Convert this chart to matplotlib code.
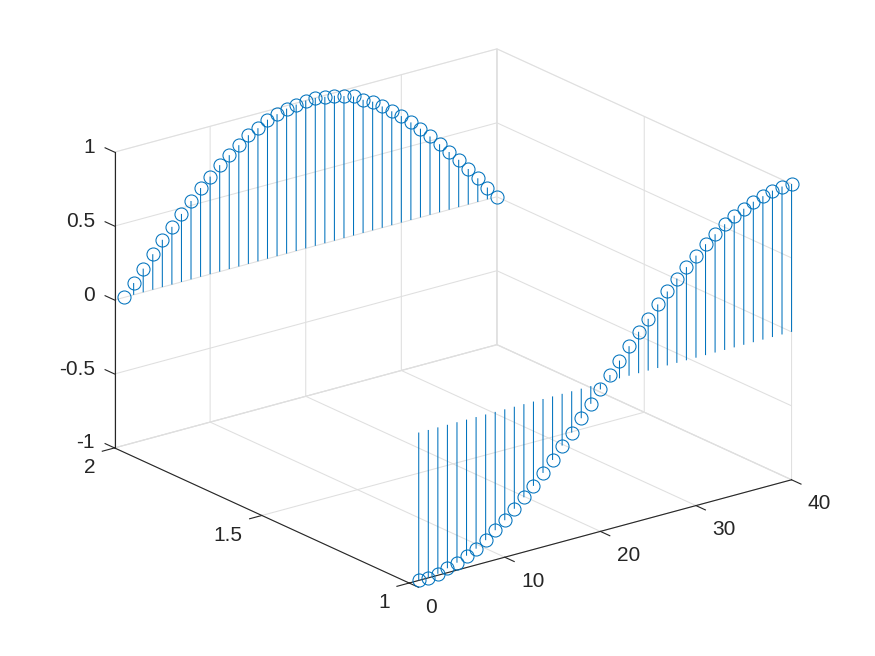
"""MATLAB-style stem3 figure: two stem series on the y=1 and y=2 planes."""
import matplotlib
matplotlib.use("Agg")
import matplotlib.pyplot as plt
from matplotlib.transforms import Affine2D

x_vals = list(range(1, 41))
back_y = [2] * 40
front_y = [1] * 40
back_z = [0.00, 0.08, 0.16, 0.24, 0.32, 0.39, 0.46, 0.53, 0.60, 0.66,
          0.72, 0.77, 0.82, 0.87, 0.90, 0.94, 0.96, 0.98, 0.99, 1.00,
          1.00, 0.99, 0.98, 0.96, 0.94, 0.90, 0.87, 0.82, 0.77, 0.72,
          0.66, 0.60, 0.53, 0.46, 0.39, 0.32, 0.24, 0.16, 0.08, 0.00]
front_z = [-1.00, -1.00, -0.99, -0.97, -0.95, -0.92, -0.89, -0.85, -0.80, -0.75,
           -0.69, -0.63, -0.57, -0.50, -0.43, -0.35, -0.28, -0.20, -0.12, -0.04,
           0.04, 0.12, 0.20, 0.28, 0.35, 0.43, 0.50, 0.57, 0.63, 0.69,
           0.75, 0.80, 0.85, 0.89, 0.92, 0.95, 0.97, 0.99, 1.00, 1.00]
x_ticks = [0, 10, 20, 30, 40]
y_ticks = [1, 1.5, 2]
z_ticks = [-1, -0.5, 0, 0.5, 1]

BLUE = "#0072BD"
DARK = "#262626"
GRID = "#DFDFDF"
W, H = 875, 656

plt.rcParams["font.family"] = ["Liberation Sans", "DejaVu Sans"]
plt.rcParams["axes.unicode_minus"] = False
plt.rcParams["grid.color"] = GRID
plt.rcParams["grid.linewidth"] = 0.75


def nudge_labels(axis, dx, dy):
    # Axis3D resets the tick transforms on every draw, so wrap the getter
    base_get = axis.get_major_ticks

    def get_major_ticks(numticks=None):
        ticks = base_get(numticks)
        for tick in ticks:
            tick.label1.set_transform(axis.axes.transData + Affine2D().translate(dx, dy))
        return ticks

    axis.get_major_ticks = get_major_ticks


fig = plt.figure(figsize=(W / 100, H / 100), dpi=100)
S = 640
ax = fig.add_axes([124.4 / W, 11.4 / H, S / W, S / H], projection="3d", proj_type="ortho")
ax.view_init(elev=20.6, azim=-127.5)
ax.set_box_aspect((482, 484, 316), zoom=1.1416)
ax.set_xlim(0, 40)
ax.set_ylim(1, 2)
ax.set_zlim(-1, 1)
ax.set_xticks(x_ticks)
ax.set_yticks(y_ticks)
ax.set_zticks(z_ticks)
ax.set_xticklabels(["0", "10", "20", "30", "40"], fontsize=15, color=DARK, ha="left", va="center")
ax.set_yticklabels(["1", "1.5", "2"], fontsize=15, color=DARK, ha="right", va="center")
ax.set_zticklabels(["-1", "-0.5", "0", "0.5", "1"], fontsize=15, color=DARK, ha="right", va="center")

for axis in (ax.xaxis, ax.yaxis, ax.zaxis):
    axis.pane.set_facecolor((1, 1, 1, 0))
    axis.pane.set_edgecolor(GRID)
    axis.pane.set_linewidth(0.75)
    axis.line.set_color(DARK)
    axis.line.set_linewidth(0.8)
    # x and y ticks point away from the back panes, so "inward" is the outer side here
    axis._axinfo["tick"]["inward_factor"] = 0.4
    axis._axinfo["tick"]["outward_factor"] = 0.0
    axis._axinfo["tick"]["linewidth"] = {True: 0.8, False: 0.5}
    axis._axinfo["tick"]["color"] = DARK
# z ticks run along y in the reference, beyond the y=2 wall
ax.zaxis._get_tickdir = lambda position: 1
ax.zaxis._axinfo["tick"]["inward_factor"] = 0.0
ax.zaxis._axinfo["tick"]["outward_factor"] = 0.4
ax.tick_params(axis="x", colors=DARK, pad=4)
ax.tick_params(axis="y", colors=DARK, pad=4)
ax.tick_params(axis="z", colors=DARK, pad=-1)
nudge_labels(ax.xaxis, 1.5, -2.5)
nudge_labels(ax.zaxis, 0, 4)

for ys, zs in ((back_y, back_z), (front_y, front_z)):
    markers, stems, base = ax.stem(x_vals, ys, zs, linefmt="-", markerfmt="o", basefmt=" ", bottom=0)
    stems.set_color(BLUE)
    stems.set_linewidth(0.75)
    stems.set_clip_on(False)
    stems.set_snap(False)
    markers.set_color(BLUE)
    markers.set_markerfacecolor("none")
    markers.set_markersize(9.4)
    markers.set_markeredgewidth(0.75)
    markers.set_clip_on(False)

fig.savefig("out.png", dpi=100)
